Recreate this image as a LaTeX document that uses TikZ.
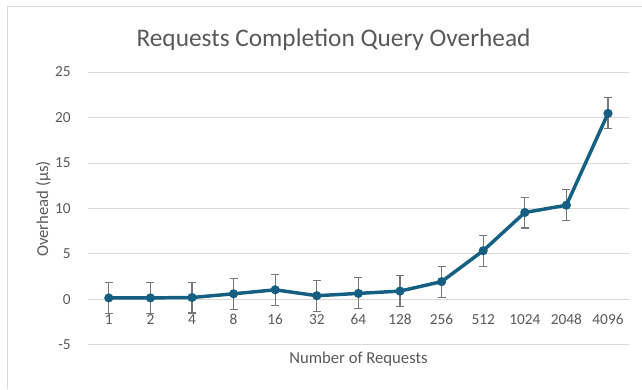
\documentclass[tikz,border=0pt]{standalone}
\usepackage{fontspec}
\setmainfont{Carlito}
\usepackage{xcolor}
\definecolor{chartgray}{HTML}{595959}
\definecolor{gridgray}{HTML}{D9D9D9}
\definecolor{barsgray}{HTML}{777777}
\definecolor{seriesblue}{HTML}{156082}

\begin{document}
\begin{tikzpicture}[x=0.75pt,y=0.75pt,yscale=-1,xscale=1,
  gridline/.style={draw=gridgray,line width=0.75pt},
  ticklabel/.style={text=chartgray,font=\fontsize{11.5}{13}\selectfont,inner sep=0.75pt,anchor=base},
  axislabel/.style={text=chartgray,font=\fontsize{12.5}{14}\selectfont,inner sep=0.75pt,anchor=base},
  series/.style={draw=seriesblue,line width=2.6pt,line join=round},
  errbar/.style={draw=barsgray,line width=0.8pt}]
\useasboundingbox (0,0) rectangle (642,389);

%Chart area border
\draw [gridline] (7,389) -- (7,6) -- (642,6) ;

%Gridlines
\draw [gridline] (88,72) -- (629,72) ;
\draw [gridline] (88,117.5) -- (629,117.5) ;
\draw [gridline] (88,163) -- (629,163) ;
\draw [gridline] (88,208.4) -- (629,208.4) ;
\draw [gridline] (88,253.9) -- (629,253.9) ;
\draw [gridline] (88,299.3) -- (629,299.3) ;
\draw [gridline] (88,344.8) -- (629,344.8) ;

% Title
\node [text=chartgray,font=\fontsize{19}{22}\selectfont,inner sep=0.75pt,anchor=base] (title) at (333.5,46.7) {Requests Completion Query Overhead};

% Y tick labels
\node [ticklabel,anchor=base east] (y25) at (72,76.7) {25};
\node [ticklabel,anchor=base east] (y20) at (72,122.2) {20};
\node [ticklabel,anchor=base east] (y15) at (72,167.7) {15};
\node [ticklabel,anchor=base east] (y10) at (72,213.1) {10};
\node [ticklabel,anchor=base east] (y5) at (72,258.6) {5};
\node [ticklabel,anchor=base east] (y0) at (72,304) {0};
\node [ticklabel,anchor=base east] (ym5) at (72,349.5) {-5};

% X tick labels
\node [ticklabel] (x1) at (108.8,324.6) {1};
\node [ticklabel] (x2) at (150.4,324.6) {2};
\node [ticklabel] (x4) at (192,324.6) {4};
\node [ticklabel] (x8) at (233.6,324.6) {8};
\node [ticklabel] (x16) at (275.2,324.6) {16};
\node [ticklabel] (x32) at (316.8,324.6) {32};
\node [ticklabel] (x64) at (358.4,324.6) {64};
\node [ticklabel] (x128) at (400,324.6) {128};
\node [ticklabel] (x256) at (441.6,324.6) {256};
\node [ticklabel] (x512) at (483.2,324.6) {512};
\node [ticklabel] (x1024) at (524.8,324.6) {1024};
\node [ticklabel] (x2048) at (566.4,324.6) {2048};
\node [ticklabel] (x4096) at (608,324.6) {4096};

% Axis titles
\node [axislabel] (xtitle) at (358.5,363.3) {Number of Requests};
\node [axislabel,rotate=90] (ytitle) at (48,209) {Overhead (μs)};

% Data points
\coordinate (q1) at (108.8,297.9) ;
\coordinate (q2) at (150.4,297.9) ;
\coordinate (q4) at (192,297.5) ;
\coordinate (q8) at (233.6,293.8) ;
\coordinate (q16) at (275.2,289.8) ;
\coordinate (q32) at (316.8,295.7) ;
\coordinate (q64) at (358.4,293.4) ;
\coordinate (q128) at (400,291.1) ;
\coordinate (q256) at (441.6,281.6) ;
\coordinate (q512) at (483.2,250.7) ;
\coordinate (q1024) at (524.8,212.5) ;
\coordinate (q2048) at (566.4,205.2) ;
\coordinate (q4096) at (608,113.4) ;

% Error bars
\foreach \q in {q1,q2,q4,q8,q16,q32,q64,q128,q256,q512,q1024,q2048,q4096}
  \draw [errbar] ([yshift=11.6pt]\q) -- ([yshift=-11.6pt]\q)
    ([xshift=-3pt,yshift=11.6pt]\q) -- ([xshift=3pt,yshift=11.6pt]\q)
    ([xshift=-3pt,yshift=-11.6pt]\q) -- ([xshift=3pt,yshift=-11.6pt]\q) ;

% Series line
\draw [series] (q1) -- (q2) -- (q4) -- (q8) -- (q16) -- (q32) -- (q64) -- (q128) -- (q256) -- (q512) -- (q1024) -- (q2048) -- (q4096) ;

% Markers
\foreach \q in {q1,q2,q4,q8,q16,q32,q64,q128,q256,q512,q1024,q2048,q4096}
  \fill [seriesblue] (\q) circle [radius=4.6] ;

\end{tikzpicture}
\end{document}
